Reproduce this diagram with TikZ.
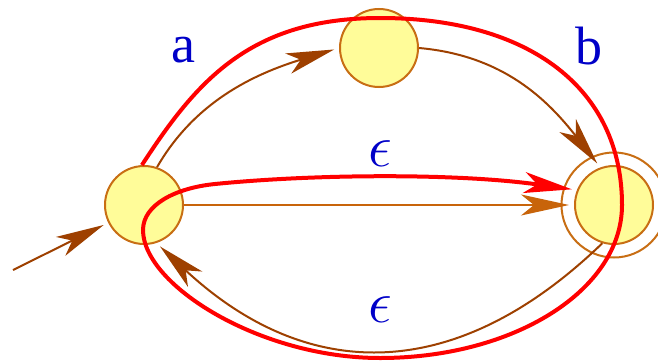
\documentclass[tikz,border=0pt]{standalone}
\usepackage{fix-cm}
\usepackage{fontspec}
\setmainfont{Liberation Serif}
\usetikzlibrary{arrows.meta}

\definecolor{statefill}{RGB}{255,252,153}
\definecolor{stateline}{RGB}{200,110,20}
\definecolor{edgebrown}{RGB}{158,64,0}
\definecolor{edgeorange}{RGB}{200,100,10}
\definecolor{labelblue}{RGB}{0,0,200}

\begin{document}
\begin{tikzpicture}[x=0.5pt, y=0.5pt,
		state/.style={circle, draw=stateline, fill=statefill, line width=1pt, minimum size=39pt, inner sep=0pt},
		ring/.style={circle, draw=stateline, line width=1pt, minimum size=52.5pt, inner sep=0pt},
		tip/.style={-{Stealth[length=24pt, width=10.5pt, inset=6.5pt]}, shorten >=2.5pt},
		trans/.style={tip, draw=edgebrown, line width=1pt},
		lab/.style={text=labelblue, inner sep=0pt, font=\fontsize{27}{30}\selectfont},
		epslab/.style={lab, font=\fontsize{30}{36}\selectfont}]
		\useasboundingbox (0, 0) rectangle (658, 360);

		\node [state] (q0) at (144, 155) {};
		\node [state] (q1) at (379, 312) {};
		\node [state] (q2) at (614, 155) {};
		\node [ring] (q2o) at (q2) {};
		\coordinate (init) at (13, 90);

		\draw [trans] (init) -- (q0);
		\draw [trans] (q0.71) .. controls +(60:75) and +(197:90) .. (q1.west);
		\draw [trans] (q1.east) .. controls +(-5:85) and +(128:85) .. (q2.110);
		\draw [trans, draw=edgeorange] (q0) -- (q2);
		\draw [trans] (q2.253) .. controls +(224:205) and +(317:205) .. (q0.288);

		\node [lab] (la) at (183, 310) {a};
		\node [lab] (lb) at (589, 314) {b};
		\node [epslab] (eps1) at (380, 206) {$\epsilon$};
		\node [epslab] (eps2) at (380, 50) {$\epsilon$};

		% the accepting run
		\draw [tip, draw=red, line width=2pt] (q0.93) .. controls +(57:100) and (250, 342) .. (380, 342)
			.. controls (530, 342) and (622, 271) .. (622, 155)
			.. controls (622, 70) and (514, 2) .. (380, 2)
			.. controls (260, 2) and (143, 75) .. (143, 130)
			.. controls (143, 155) and (175, 172) .. (215, 176)
			.. controls (315, 186) and (457, 187) .. (q2.158);
	\end{tikzpicture}
\end{document}
